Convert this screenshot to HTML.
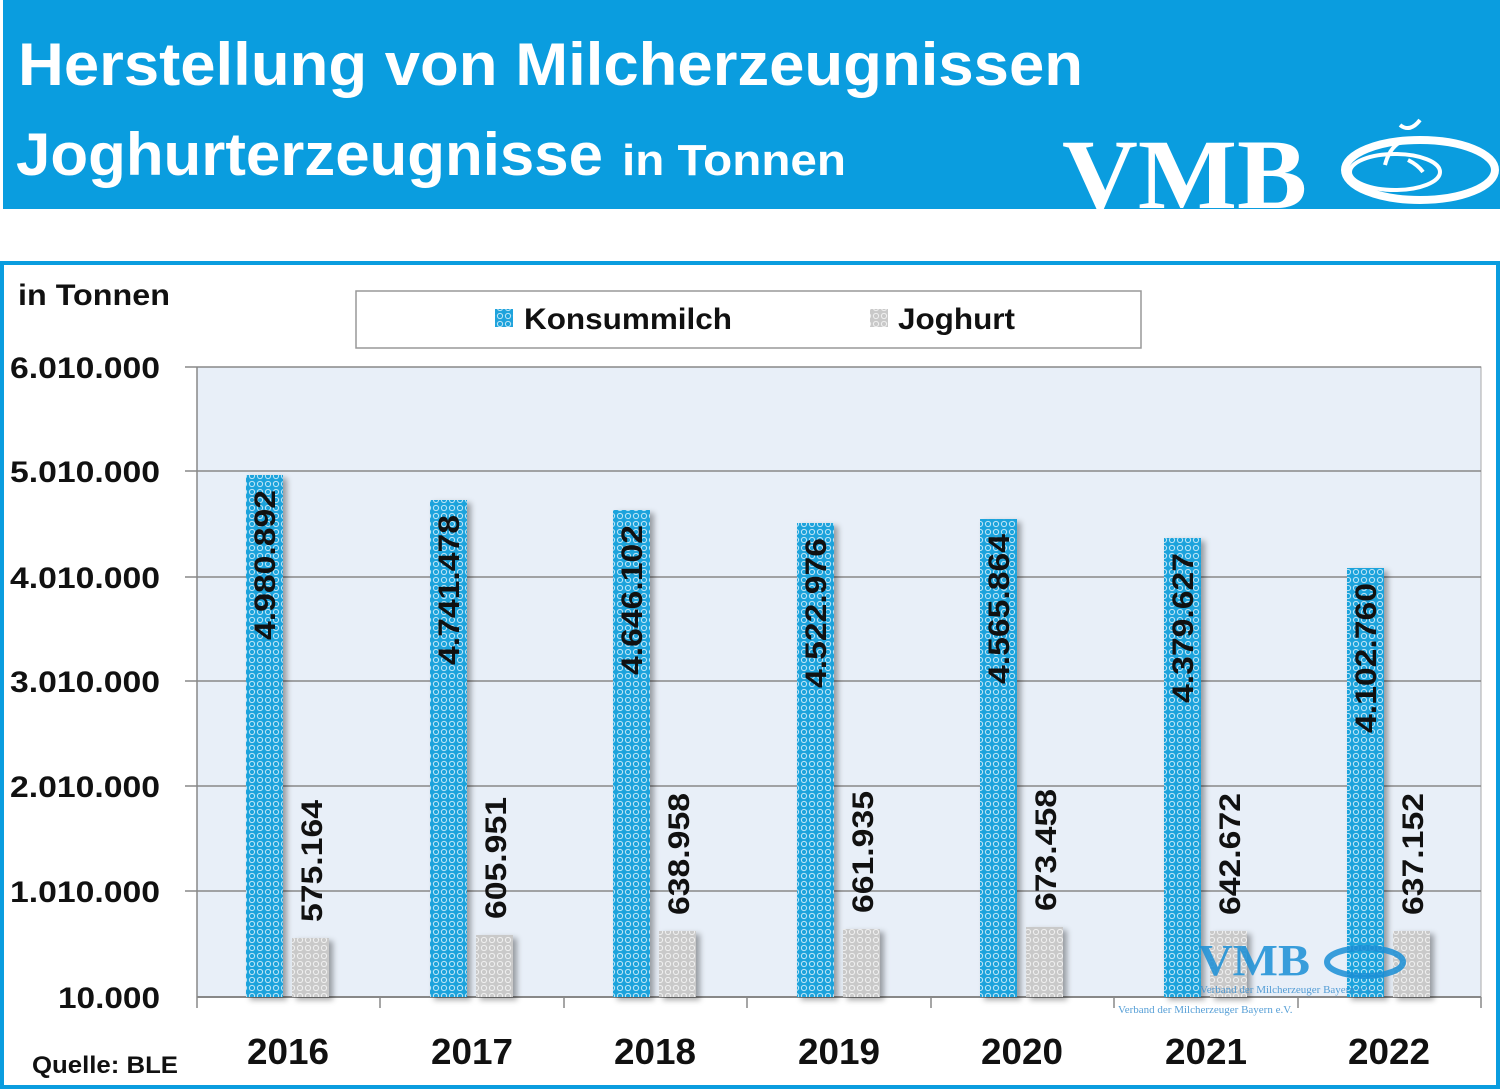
<!DOCTYPE html>
<html><head><meta charset="utf-8"><style>
body{margin:0;background:#fff;}
svg{display:block;font-family:"Liberation Sans",sans-serif;}
</style></head><body>
<svg width="1500" height="1090" viewBox="0 0 1500 1090" xmlns="http://www.w3.org/2000/svg">
<defs>
<pattern id="pb" width="8" height="8" patternUnits="userSpaceOnUse">
<rect width="8" height="8" fill="#1fa3dc"/>
<circle cx="4" cy="4" r="2.6" fill="none" stroke="#bfe6f7" stroke-width="1"/>
</pattern>
<pattern id="pg" width="8" height="8" patternUnits="userSpaceOnUse">
<rect width="8" height="8" fill="#c9c9c9"/>
<circle cx="4" cy="4" r="2.6" fill="none" stroke="#f0f0f0" stroke-width="1"/>
</pattern>
<filter id="sh" x="-50%" y="-10%" width="200%" height="130%"><feDropShadow dx="4" dy="3" stdDeviation="3" flood-color="#000" flood-opacity="0.35"/></filter>
</defs>
<rect x="3" y="0" width="1497" height="209" fill="#0a9ddf"/>
<text x="18" y="85" font-size="60" font-weight="bold" fill="#fff" textLength="1065" lengthAdjust="spacingAndGlyphs">Herstellung von Milcherzeugnissen</text>
<text x="16" y="175" font-size="60" font-weight="bold" fill="#fff" textLength="587" lengthAdjust="spacingAndGlyphs">Joghurterzeugnisse</text>
<text x="622" y="175" font-size="44" font-weight="bold" fill="#fff" textLength="224" lengthAdjust="spacingAndGlyphs">in Tonnen</text>
<text x="1062" y="208" font-family="Liberation Serif,serif" font-size="100" font-weight="bold" fill="#fff" textLength="245" lengthAdjust="spacingAndGlyphs">VMB</text>
<ellipse cx="1420" cy="170" rx="75" ry="30" fill="none" stroke="#fff" stroke-width="8"/>
<ellipse cx="1395" cy="172" rx="45" ry="18" fill="none" stroke="#fff" stroke-width="4"/>
<path d="M1385 165 q5 -20 20 -25 M1408 160 q10 5 15 12" stroke="#fff" stroke-width="4" fill="none"/>
<path d="M1400 125 q10 8 20 -5" stroke="#fff" stroke-width="4" fill="none"/>
<rect x="2" y="263" width="1496" height="824" fill="#fff" stroke="#0a9ddf" stroke-width="4"/>
<text x="18" y="305" font-size="30" font-weight="bold" fill="#111" textLength="152" lengthAdjust="spacingAndGlyphs">in Tonnen</text>
<rect x="356" y="291" width="785" height="57" fill="#fff" stroke="#999" stroke-width="1.5"/>
<rect x="495" y="309" width="18" height="18" fill="url(#pb)"/>
<text x="524" y="329" font-size="30" font-weight="bold" fill="#111" textLength="208" lengthAdjust="spacingAndGlyphs">Konsummilch</text>
<rect x="870" y="309" width="18" height="18" fill="url(#pg)"/>
<text x="898" y="329" font-size="30" font-weight="bold" fill="#111" textLength="117" lengthAdjust="spacingAndGlyphs">Joghurt</text>
<rect x="197" y="367" width="1284" height="630" fill="#e8eff8" stroke="#aaa"/>
<g stroke="#888" stroke-width="1.5">
<line x1="185" y1="367" x2="1481" y2="367"/><line x1="185" y1="471" x2="1481" y2="471"/><line x1="185" y1="577" x2="1481" y2="577"/><line x1="185" y1="681" x2="1481" y2="681"/><line x1="185" y1="786" x2="1481" y2="786"/><line x1="185" y1="891" x2="1481" y2="891"/>
<line x1="197" y1="997" x2="1481" y2="997" stroke-width="2"/>
<line x1="197" y1="367" x2="197" y2="1008"/>
<line x1="380" y1="997" x2="380" y2="1008"/><line x1="564" y1="997" x2="564" y2="1008"/><line x1="747" y1="997" x2="747" y2="1008"/><line x1="931" y1="997" x2="931" y2="1008"/><line x1="1114" y1="997" x2="1114" y2="1008"/><line x1="1298" y1="997" x2="1298" y2="1008"/><line x1="1481" y1="997" x2="1481" y2="1008"/>
</g>
<g font-size="30" font-weight="bold" fill="#111" text-anchor="end" lengthAdjust="spacingAndGlyphs">
<text x="160" y="378" textLength="150" lengthAdjust="spacingAndGlyphs">6.010.000</text><text x="160" y="482" textLength="150" lengthAdjust="spacingAndGlyphs">5.010.000</text><text x="160" y="588" textLength="150" lengthAdjust="spacingAndGlyphs">4.010.000</text><text x="160" y="692" textLength="150" lengthAdjust="spacingAndGlyphs">3.010.000</text><text x="160" y="797" textLength="150" lengthAdjust="spacingAndGlyphs">2.010.000</text><text x="160" y="902" textLength="150" lengthAdjust="spacingAndGlyphs">1.010.000</text><text x="160" y="1008" textLength="102" lengthAdjust="spacingAndGlyphs">10.000</text>
</g>
<g font-size="36" font-weight="bold" fill="#111" text-anchor="middle">
<text x="288" y="1064" textLength="82" lengthAdjust="spacingAndGlyphs">2016</text><text x="472" y="1064" textLength="82" lengthAdjust="spacingAndGlyphs">2017</text><text x="655" y="1064" textLength="82" lengthAdjust="spacingAndGlyphs">2018</text><text x="839" y="1064" textLength="82" lengthAdjust="spacingAndGlyphs">2019</text><text x="1022" y="1064" textLength="82" lengthAdjust="spacingAndGlyphs">2020</text><text x="1206" y="1064" textLength="82" lengthAdjust="spacingAndGlyphs">2021</text><text x="1389" y="1064" textLength="82" lengthAdjust="spacingAndGlyphs">2022</text>
</g>
<text x="32" y="1073" font-size="24" font-weight="bold" fill="#111" textLength="146" lengthAdjust="spacingAndGlyphs">Quelle: BLE</text>
<g filter="url(#sh)">
<rect x="246" y="475" width="37" height="522" fill="url(#pb)"/>
<rect x="292" y="938" width="37" height="59" fill="url(#pg)"/>
<rect x="430" y="500" width="37" height="497" fill="url(#pb)"/>
<rect x="476" y="935" width="37" height="62" fill="url(#pg)"/>
<rect x="613" y="510" width="37" height="487" fill="url(#pb)"/>
<rect x="659" y="931" width="37" height="66" fill="url(#pg)"/>
<rect x="797" y="523" width="37" height="474" fill="url(#pb)"/>
<rect x="843" y="929" width="37" height="68" fill="url(#pg)"/>
<rect x="980" y="519" width="37" height="478" fill="url(#pb)"/>
<rect x="1026" y="927" width="37" height="70" fill="url(#pg)"/>
<rect x="1164" y="538" width="37" height="459" fill="url(#pb)"/>
<rect x="1210" y="931" width="37" height="66" fill="url(#pg)"/>
<rect x="1347" y="568" width="37" height="429" fill="url(#pb)"/>
<rect x="1393" y="931" width="37" height="66" fill="url(#pg)"/>
</g>
<g font-size="30" font-weight="bold" fill="#111">
<text transform="translate(275,490) rotate(-90)" text-anchor="end" textLength="150" lengthAdjust="spacingAndGlyphs">4.980.892</text>
<text transform="translate(459,515) rotate(-90)" text-anchor="end" textLength="150" lengthAdjust="spacingAndGlyphs">4.741.478</text>
<text transform="translate(642,525) rotate(-90)" text-anchor="end" textLength="150" lengthAdjust="spacingAndGlyphs">4.646.102</text>
<text transform="translate(826,538) rotate(-90)" text-anchor="end" textLength="150" lengthAdjust="spacingAndGlyphs">4.522.976</text>
<text transform="translate(1009,534) rotate(-90)" text-anchor="end" textLength="150" lengthAdjust="spacingAndGlyphs">4.565.864</text>
<text transform="translate(1193,553) rotate(-90)" text-anchor="end" textLength="150" lengthAdjust="spacingAndGlyphs">4.379.627</text>
<text transform="translate(1376,583) rotate(-90)" text-anchor="end" textLength="150" lengthAdjust="spacingAndGlyphs">4.102.760</text>
<text transform="translate(322,922) rotate(-90)" textLength="122" lengthAdjust="spacingAndGlyphs">575.164</text>
<text transform="translate(506,919) rotate(-90)" textLength="122" lengthAdjust="spacingAndGlyphs">605.951</text>
<text transform="translate(689,915) rotate(-90)" textLength="122" lengthAdjust="spacingAndGlyphs">638.958</text>
<text transform="translate(873,913) rotate(-90)" textLength="122" lengthAdjust="spacingAndGlyphs">661.935</text>
<text transform="translate(1056,911) rotate(-90)" textLength="122" lengthAdjust="spacingAndGlyphs">673.458</text>
<text transform="translate(1240,915) rotate(-90)" textLength="122" lengthAdjust="spacingAndGlyphs">642.672</text>
<text transform="translate(1423,915) rotate(-90)" textLength="122" lengthAdjust="spacingAndGlyphs">637.152</text>
</g>
<g opacity="0.85">
<text x="1198" y="975" font-family="Liberation Serif,serif" font-size="44" font-weight="bold" fill="#1a8fd6" textLength="112" lengthAdjust="spacingAndGlyphs">VMB</text>
<ellipse cx="1365" cy="962" rx="38" ry="14" fill="none" stroke="#1a8fd6" stroke-width="6"/>
<text x="1200" y="993" font-family="Liberation Serif,serif" font-size="11" fill="#3a8fd0">Verband der Milcherzeuger Bayern e.V.</text>
<text x="1118" y="1013" font-family="Liberation Serif,serif" font-size="11" fill="#3a8fd0">Verband der Milcherzeuger Bayern e.V.</text>
</g>
</svg>
</body></html>
